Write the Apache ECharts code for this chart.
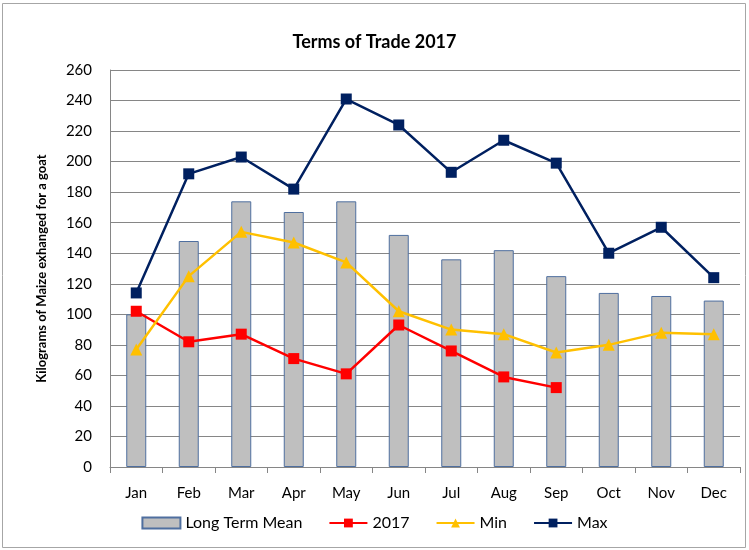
<!DOCTYPE html>
<html>
<head>
<meta charset="utf-8">
<script src="https://cdn.jsdelivr.net/npm/echarts@6/dist/echarts.min.js"></script>
<style>
  html, body { margin: 0; padding: 0; background: #fff; }
  #chart { width: 749px; height: 550px; }
</style>
</head>
<body>
<div id="chart"></div>
<script>
// data
var months = ['Jan', 'Feb', 'Mar', 'Apr', 'May', 'Jun', 'Jul', 'Aug', 'Sep', 'Oct', 'Nov', 'Dec'];
var longTermMean = [100, 148, 174, 167, 174, 152, 136, 142, 125, 114, 112, 109];
var y2017 = [102, 82, 87, 71, 61, 93, 76, 59, 52, null, null, null];
var minVals = [77, 125, 154, 147, 134, 102, 90, 87, 75, 80, 88, 87];
var maxVals = [114, 192, 203, 182, 241, 224, 193, 214, 199, 140, 157, 124];

var font = 'Lato, "Open Sans", sans-serif';
var chart = echarts.init(document.getElementById('chart'));

chart.setOption({
  animation: false,
  textStyle: { fontFamily: font },
  graphic: [{
    type: 'rect',
    shape: { x: 2.5, y: 3.5, width: 743, height: 544 },
    style: { fill: 'none', stroke: '#a6a6a6', lineWidth: 1 }
  }],
  title: {
    text: 'Terms of Trade 2017',
    left: 'center',
    top: 28,
    textStyle: { fontFamily: font, fontSize: 18, fontWeight: 'bold', color: '#000' }
  },
  legend: {
    bottom: 14,
    left: 'center',
    itemGap: 26,
    itemWidth: 38,
    itemHeight: 11,
    textStyle: { fontFamily: font, fontSize: 16, color: '#000' },
    data: [
      { name: 'Long Term Mean', icon: 'rect' },
      { name: '2017' },
      { name: 'Min' },
      { name: 'Max' }
    ]
  },
  grid: { left: 110, right: 9, top: 70, bottom: 83 },
  xAxis: {
    type: 'category',
    data: months,
    axisLine: { lineStyle: { color: '#868686' } },
    axisTick: { show: true, length: 6, lineStyle: { color: '#868686' } },
    axisLabel: { color: '#000', fontSize: 15, margin: 19, fontFamily: font }
  },
  yAxis: {
    type: 'value',
    min: 0,
    max: 260,
    interval: 20,
    name: 'Kilograms of Maize exhanged for a goat',
    nameLocation: 'middle',
    nameGap: 62,
    nameTextStyle: { fontFamily: font, fontSize: 13, fontWeight: 'bold', color: '#000' },
    axisLine: { show: true, lineStyle: { color: '#868686' } },
    axisTick: { show: false },
    axisLabel: { color: '#000', fontSize: 15, margin: 18, fontFamily: font },
    splitLine: { lineStyle: { color: '#868686', width: 1 } }
  },
  series: [
    {
      name: 'Long Term Mean',
      type: 'bar',
      data: longTermMean,
      barWidth: 20,
      itemStyle: { color: '#bfbfbf', borderColor: '#4f6f9f', borderWidth: 1 }
    },
    {
      name: '2017',
      type: 'line',
      data: y2017,
      symbol: 'rect',
      symbolSize: 11,
      lineStyle: { color: '#ff0000', width: 2.5 },
      itemStyle: { color: '#ff0000' }
    },
    {
      name: 'Min',
      type: 'line',
      data: minVals,
      symbol: 'triangle',
      symbolSize: 12,
      lineStyle: { color: '#ffc000', width: 2.5 },
      itemStyle: { color: '#ffc000' }
    },
    {
      name: 'Max',
      type: 'line',
      data: maxVals,
      symbol: 'rect',
      symbolSize: 11,
      lineStyle: { color: '#002060', width: 2.5 },
      itemStyle: { color: '#002060' }
    }
  ]
});
</script>
</body>
</html>
